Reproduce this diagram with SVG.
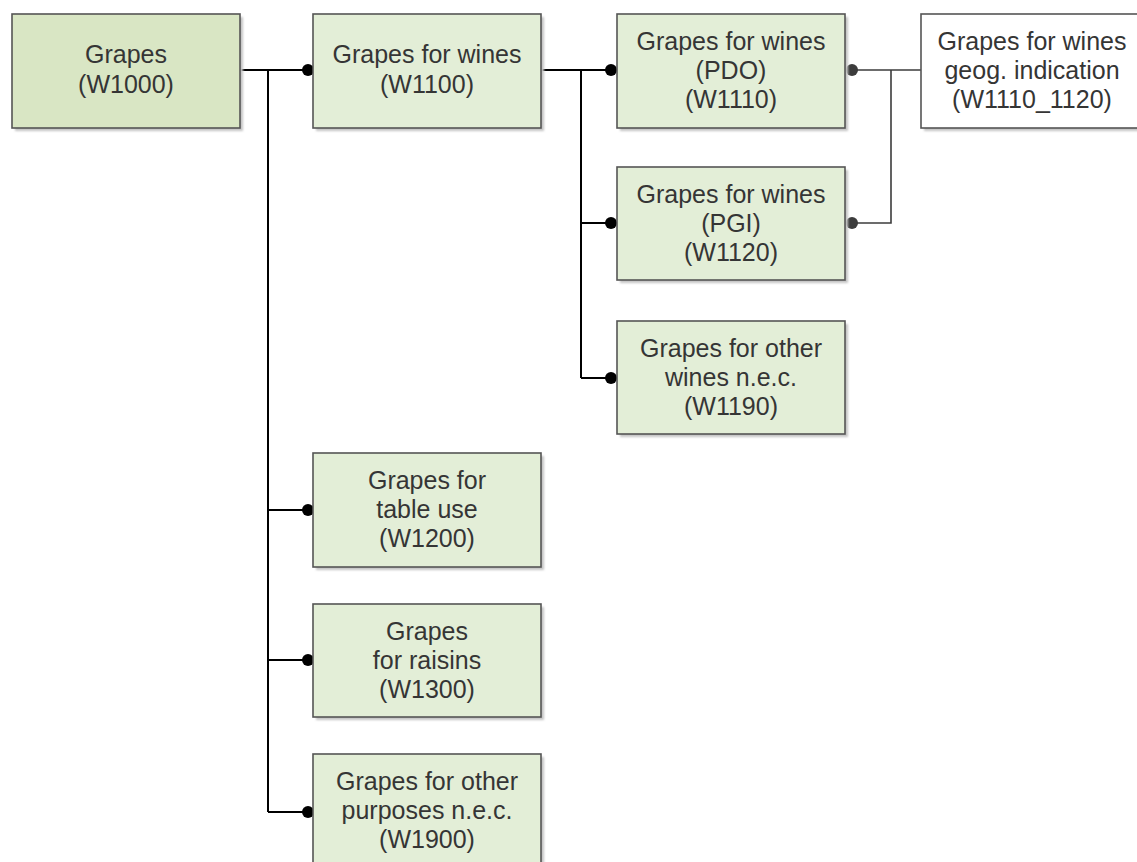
<svg xmlns="http://www.w3.org/2000/svg" width="1137" height="862" viewBox="0 0 1137 862">
  <defs>
    <filter id="soft" x="-10%" y="-10%" width="120%" height="120%">
      <feGaussianBlur stdDeviation="1.2"/>
    </filter>
  </defs>
  <style>
    .shadow { fill: #c4c4c4; filter: url(#soft); }
    .box { fill: #e3eed7; stroke: #555555; stroke-width: 1.6; }
    .root { fill: #d9e6c4; }
    .plain { fill: #ffffff; }
    .label { font-family: "Liberation Sans", Arial, sans-serif; font-size: 25px; fill: #353535; text-anchor: middle; }
    .wire { fill: none; stroke: #000000; stroke-width: 2; }
    .wire-grey { fill: none; stroke: #3c3c3c; stroke-width: 1.6; }
    .dot { fill: #000000; }
    .dot-grey { fill: #3c3c3c; }
  </style>
  <rect width="1137" height="862" fill="#ffffff"/>

  <!-- connectors -->
  <g id="connectors">
    <!-- W1000 to its children -->
    <path class="wire" d="M240 70 H308 M268 70 V812 M268 510 H308 M268 660 H308 M268 812 H308"/>
    <!-- W1100 to its children -->
    <path class="wire" d="M541 70 H611 M581 70 V378 M581 223 H611 M581 378 H611"/>
    <!-- PDO / PGI to geographical indication -->
    <path class="wire-grey" d="M852 70 H921 M852 223 H891 V70"/>
    <circle class="dot" cx="308" cy="70" r="6"/>
    <circle class="dot" cx="308" cy="510" r="6"/>
    <circle class="dot" cx="308" cy="660" r="6"/>
    <circle class="dot" cx="308" cy="812" r="6"/>
    <circle class="dot" cx="611" cy="70" r="6"/>
    <circle class="dot" cx="611" cy="223" r="6"/>
    <circle class="dot" cx="611" cy="378" r="6"/>
    <circle class="dot-grey" cx="852" cy="70" r="6"/>
    <circle class="dot-grey" cx="852" cy="223" r="6"/>
  </g>

  <g id="W1000">
    <rect class="shadow" x="15" y="17" width="228" height="114"/>
    <rect class="box root" x="12" y="14" width="228" height="114"/>
    <text class="label" x="126" y="63">Grapes</text>
    <text class="label" x="126" y="93">(W1000)</text>
  </g>

  <g id="W1100">
    <rect class="shadow" x="316" y="17" width="228" height="114"/>
    <rect class="box" x="313" y="14" width="228" height="114"/>
    <text class="label" x="427" y="63">Grapes for wines</text>
    <text class="label" x="427" y="93">(W1100)</text>
  </g>

  <g id="W1110">
    <rect class="shadow" x="620" y="17" width="228" height="114"/>
    <rect class="box" x="617" y="14" width="228" height="114"/>
    <text class="label" x="731" y="50">Grapes for wines</text>
    <text class="label" x="731" y="79">(PDO)</text>
    <text class="label" x="731" y="108">(W1110)</text>
  </g>

  <g id="W1110_1120">
    <rect class="shadow" x="924" y="17" width="222" height="114"/>
    <rect class="box plain" x="921" y="14" width="222" height="114"/>
    <text class="label" x="1032" y="50">Grapes for wines</text>
    <text class="label" x="1032" y="79">geog. indication</text>
    <text class="label" x="1032" y="108">(W1110_1120)</text>
  </g>

  <g id="W1120">
    <rect class="shadow" x="620" y="170" width="228" height="113"/>
    <rect class="box" x="617" y="167" width="228" height="113"/>
    <text class="label" x="731" y="203">Grapes for wines</text>
    <text class="label" x="731" y="232">(PGI)</text>
    <text class="label" x="731" y="261">(W1120)</text>
  </g>

  <g id="W1190">
    <rect class="shadow" x="620" y="324" width="228" height="113"/>
    <rect class="box" x="617" y="321" width="228" height="113"/>
    <text class="label" x="731" y="357">Grapes for other</text>
    <text class="label" x="731" y="386">wines n.e.c.</text>
    <text class="label" x="731" y="415">(W1190)</text>
  </g>

  <g id="W1200">
    <rect class="shadow" x="316" y="456" width="228" height="114"/>
    <rect class="box" x="313" y="453" width="228" height="114"/>
    <text class="label" x="427" y="489">Grapes for</text>
    <text class="label" x="427" y="518">table use</text>
    <text class="label" x="427" y="547">(W1200)</text>
  </g>

  <g id="W1300">
    <rect class="shadow" x="316" y="607" width="228" height="113"/>
    <rect class="box" x="313" y="604" width="228" height="113"/>
    <text class="label" x="427" y="640">Grapes</text>
    <text class="label" x="427" y="669">for raisins</text>
    <text class="label" x="427" y="698">(W1300)</text>
  </g>

  <g id="W1900">
    <rect class="shadow" x="316" y="757" width="228" height="114"/>
    <rect class="box" x="313" y="754" width="228" height="114"/>
    <text class="label" x="427" y="790">Grapes for other</text>
    <text class="label" x="427" y="819">purposes n.e.c.</text>
    <text class="label" x="427" y="848">(W1900)</text>
  </g>
</svg>
